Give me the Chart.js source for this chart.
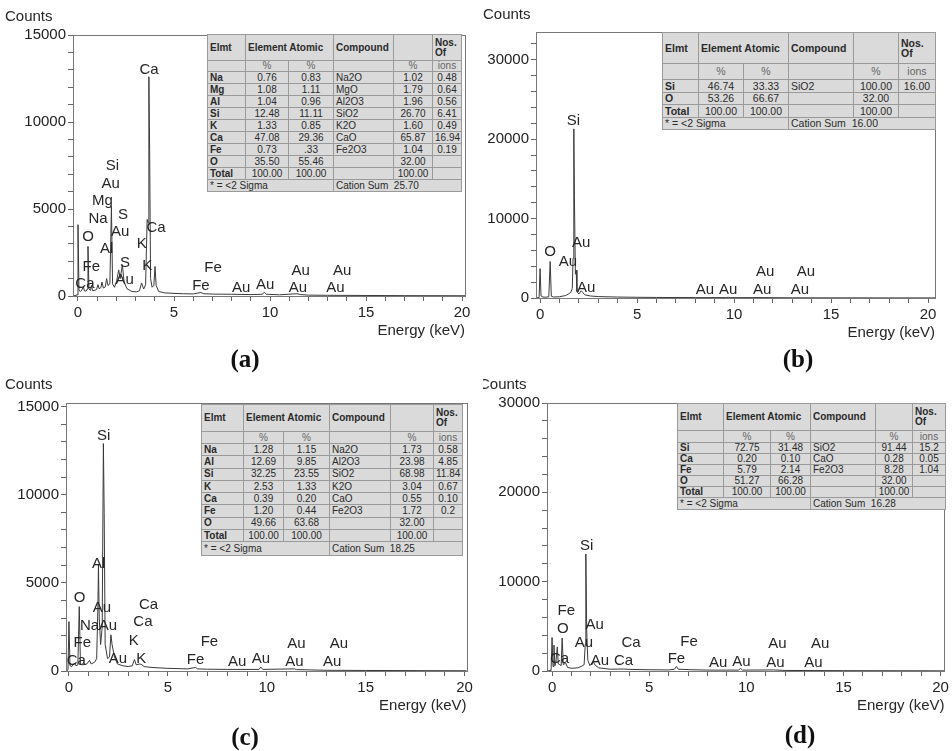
<!DOCTYPE html>
<html>
<head>
<meta charset="utf-8">
<script src="https://cdn.jsdelivr.net/npm/chart.js@4.4.1/dist/chart.umd.min.js"></script>
<style>
  body { margin: 0; background: #fff; }
  #wrap { position: relative; width: 952px; height: 751px; overflow: hidden; background: #fff; }
  canvas { position: absolute; }
  table.eds {
    position: absolute; border-collapse: collapse; table-layout: fixed;
    background: #dadada; color: #2a2a2a;
    font-family: "Liberation Sans", Arial, sans-serif;
    border: 1px solid #8a8a8a;
  }
  table.eds td { border: 1px solid #9a9a9a; padding: 0 2px; white-space: nowrap; overflow: hidden; text-align: center; line-height: 1; }
  table.eds td.l { text-align: left; }
  table.eds tr.hd td { font-weight: bold; text-align: left; }
  table.eds tr.pc td { color: #666; }
  table.eds td.b { font-weight: bold; }
  .cap { position: absolute; font-family: "Liberation Serif", "Times New Roman", serif; font-weight: bold; font-size: 25px; color: #111; transform: translate(-50%, -50%); }
</style>
</head>
<body>
<div id="wrap">
  <canvas id="chartA" width="476" height="372" style="left:0;top:0"></canvas>
  <canvas id="chartB" width="476" height="372" style="left:476px;top:0"></canvas>
  <canvas id="chartC" width="476" height="372" style="left:0;top:372px"></canvas>
  <canvas id="chartD" width="469" height="372" style="left:483px;top:372px"></canvas>
  <div class="cap" style="left:245px;top:359px">(a)</div>
  <div class="cap" style="left:798px;top:359px">(b)</div>
  <div class="cap" style="left:245px;top:737px">(c)</div>
  <div class="cap" style="left:800px;top:735px">(d)</div>
</div>
<script>
const FONT = '"Liberation Sans", Arial, sans-serif';

// --- spectra: [energy keV, counts] ---
const spectrumA = [[-0.25,0],[-0.05,60],[0,4100],[0.05,350],[0.12,250],[0.2,350],[0.28,550],[0.33,300],[0.42,280],[0.48,400],
  [0.52,2850],[0.57,400],[0.65,320],[0.7,600],[0.76,300],[0.88,330],[0.97,380],[1.04,650],[1.1,420],[1.19,480],
  [1.25,800],[1.32,460],[1.42,520],[1.49,1000],[1.56,600],[1.66,700],[1.74,5150],[1.8,700],[1.9,500],[2.02,900],
  [2.12,1500],[2.2,1000],[2.31,1800],[2.4,800],[2.55,420],[2.8,260],[3.05,240],[3.2,300],[3.31,750],[3.42,400],
  [3.52,650],[3.6,4400],[3.65,4200],[3.69,12600],[3.73,8400],[3.78,1000],[3.86,500],[3.95,600],[4.01,1700],[4.07,600],
  [4.2,260],[4.5,180],[5,150],[5.5,130],[6,120],[6.4,200],[6.55,130],[7,110],[8,100],[9,80],
  [9.6,100],[9.7,220],[9.8,100],[10.5,70],[11.4,130],[11.6,80],[12,50],[13,40],[15,30],[17,20],[20.15,15]];
const spectrumB = [[-0.21,0],[-0.05,60],[0,3700],[0.05,250],[0.15,120],[0.3,100],[0.45,150],[0.52,4600],[0.58,220],[0.7,120],
  [1.0,160],[1.3,300],[1.45,480],[1.58,700],[1.66,1200],[1.7,5000],[1.74,21300],[1.77,12800],[1.82,3000],[1.86,3500],
  [1.9,800],[2.0,500],[2.12,900],[2.2,700],[2.3,400],[2.6,250],[3,180],[4,120],[5,90],[6,70],
  [8,50],[9.6,50],[9.7,90],[9.8,45],[11.5,50],[13,25],[20.36,10]];
const spectrumC = [[-0.15,0],[-0.05,60],[0,2800],[0.05,300],[0.15,250],[0.28,450],[0.35,300],[0.45,350],[0.52,3650],[0.58,400],
  [0.7,350],[0.9,400],[1.04,600],[1.12,400],[1.3,500],[1.4,700],[1.46,3500],[1.49,6000],[1.53,3000],[1.6,1500],
  [1.68,2500],[1.74,12900],[1.78,9000],[1.83,1500],[1.95,700],[2.05,800],[2.12,2050],[2.18,1500],[2.3,800],[2.45,400],
  [2.7,300],[3.0,250],[3.2,300],[3.31,650],[3.4,350],[3.59,400],[3.69,350],[3.8,250],[4.2,200],[5,150],
  [6,120],[6.4,200],[6.5,120],[7,100],[8,90],[9.6,90],[9.7,220],[9.8,90],[11.4,120],[11.5,80],
  [13,40],[15,30],[18,20],[20.1,15]];
const spectrumD = [[-0.26,0],[-0.05,60],[0,3750],[0.05,500],[0.1,2900],[0.15,600],[0.2,1000],[0.27,2700],[0.32,800],[0.4,700],
  [0.47,600],[0.52,3700],[0.58,700],[0.7,900],[0.8,400],[1.0,300],[1.3,350],[1.5,500],[1.65,700],[1.71,3000],
  [1.74,13100],[1.78,4800],[1.84,1200],[1.95,600],[2.05,900],[2.12,1100],[2.2,700],[2.4,350],[3,200],[3.69,220],
  [4,180],[5,140],[6,120],[6.3,200],[6.4,500],[6.5,200],[7.06,150],[8,100],[9.6,100],[9.7,280],
  [9.8,100],[11.4,120],[12,60],[15,40],[20.2,20]];

// --- peak labels: [element, keV, counts] ---
const peaksA = [['Ca',3.70,12980],['Si',1.79,7460],['Au',1.70,6440],['Mg',1.27,5440],['Na',1.04,4420],['S',2.34,4670],
  ['O',0.52,3420],['Au',2.19,3670],['Ca',4.06,3940],['K',3.32,2980],['Al',1.49,2690],['S',2.45,1920],['Fe',0.69,1690],
  ['K',3.61,1750],['Au',2.43,920],['Ca',0.36,670],['Fe',7.03,1600],['Fe',6.4,600],['Au',8.5,460],['Au',9.74,630],
  ['Au',11.6,1440],['Au',11.45,460],['Au',13.75,1440],['Au',13.4,460]];
const peaksB = [['Si',1.72,22260],['O',0.52,5850],['Au',2.12,6900],['Au',1.43,4580],['Au',2.38,1310],['Au',8.5,1010],
  ['Au',9.7,1010],['Au',11.6,3290],['Au',11.45,1010],['Au',13.7,3290],['Au',13.4,1010]];
const peaksC = [['Si',1.75,13360],['Al',1.50,6100],['O',0.54,4140],['Au',1.67,3570],['Ca',4.02,3760],['Na',1.04,2570],
  ['Au',1.97,2570],['Ca',3.74,2760],['Fe',0.67,1580],['K',3.28,1730],['Ca',0.37,590],['Au',2.47,665],['K',3.65,665],
  ['Fe',7.1,1650],['Fe',6.4,625],['Au',8.5,510],['Au',9.7,680],['Au',11.5,1530],['Au',11.4,510],['Au',13.65,1530],['Au',13.3,510]];
const peaksD = [['Si',1.78,13990],['Fe',0.73,6680],['Au',2.20,5180],['O',0.56,4690],['Au',1.64,3190],['Ca',4.07,3110],
  ['Fe',7.05,3300],['Ca',0.39,1310],['Au',2.46,1160],['Ca',3.68,1160],['Fe',6.4,1400],['Au',8.55,900],['Au',9.75,1010],
  ['Au',11.6,3030],['Au',11.5,900],['Au',13.8,3030],['Au',13.45,900]];

// --- quantification tables ---
const elmtA = ['Na','Mg','Al','Si','K','Ca','Fe','O','Total'];
const elemPctA = ['0.76','1.08','1.04','12.48','1.33','47.08','0.73','35.50','100.00'];
const atomPctA = ['0.83','1.11','0.96','11.11','0.85','29.36','.33','55.46','100.00'];
const compA = ['Na2O','MgO','Al2O3','SiO2','K2O','CaO','Fe2O3','',''];
const compPctA = ['1.02','1.79','1.96','26.70','1.60','65.87','1.04','32.00','100.00'];
const ionsA = ['0.48','0.64','0.56','6.41','0.49','16.94','0.19','',''];
const cationA = '25.70';

const elmtB = ['Si','O','Total'];
const elemPctB = ['46.74','53.26','100.00'];
const atomPctB = ['33.33','66.67','100.00'];
const compB = ['SiO2','',''];
const compPctB = ['100.00','32.00','100.00'];
const ionsB = ['16.00','',''];
const cationB = '16.00';

const elmtC = ['Na','Al','Si','K','Ca','Fe','O','Total'];
const elemPctC = ['1.28','12.69','32.25','2.53','0.39','1.20','49.66','100.00'];
const atomPctC = ['1.15','9.85','23.55','1.33','0.20','0.44','63.68','100.00'];
const compC = ['Na2O','Al2O3','SiO2','K2O','CaO','Fe2O3','',''];
const compPctC = ['1.73','23.98','68.98','3.04','0.55','1.72','32.00','100.00'];
const ionsC = ['0.58','4.85','11.84','0.67','0.10','0.2','',''];
const cationC = '18.25';

const elmtD = ['Si','Ca','Fe','O','Total'];
const elemPctD = ['72.75','0.20','5.79','51.27','100.00'];
const atomPctD = ['31.48','0.10','2.14','66.28','100.00'];
const compD = ['SiO2','CaO','Fe2O3','',''];
const compPctD = ['91.44','0.28','8.28','32.00','100.00'];
const ionsD = ['15.2','0.05','1.04','',''];
const cationD = '16.28';

// frame, "Counts", "Energy (keV)" and the peak names
const peakText = {
  id: 'peakText',
  afterDraw(chart, args, opts) {
    const { ctx, chartArea: a, scales: { x, y } } = chart;
    ctx.save();
    ctx.strokeStyle = '#777';
    ctx.lineWidth = 1;
    ctx.strokeRect(Math.round(a.left) + 0.5, Math.round(a.top) + 0.5, Math.round(a.right - a.left), Math.round(a.bottom - a.top));
    ctx.fillStyle = '#262626';
    ctx.font = '15px ' + FONT;
    ctx.textBaseline = 'middle';
    ctx.textAlign = 'left';
    ctx.fillText('Counts', opts.countsX, opts.countsY);
    ctx.textAlign = 'right';
    ctx.fillText('Energy (keV)', a.right, a.bottom + 35);
    ctx.textAlign = 'center';
    opts.peaks.forEach(([name, kev, c]) => {
      ctx.fillText(name, x.getPixelForValue(kev), y.getPixelForValue(c));
    });
    ctx.restore();
  }
};

// tick values at every step between 0 and the top (Chart.js otherwise re-spaces them when max is not a multiple)
function stepTicks(top, step) {
  const t = [];
  for (let v = 0; v <= top + 1e-9; v += step) t.push({ value: v });
  return t;
}

function makeChart(id, spec) {
  const canvas = document.getElementById(id);
  const W = canvas.width, H = canvas.height, p = spec.plot;
  const tickFont = { family: FONT, size: 15 };
  return new Chart(canvas, {
    type: 'line',
    data: {
      datasets: [{
        data: spec.points.map(([e, c]) => ({ x: e, y: c })),
        borderColor: '#3a3a3a', borderWidth: 1, pointRadius: 0, tension: 0, fill: false
      }]
    },
    options: {
      responsive: false, animation: false,
      layout: { padding: { left: 0, top: p.t, right: W - p.r, bottom: 0 } },
      plugins: {
        legend: { display: false }, tooltip: { enabled: false }, title: { display: false },
        peakText: { peaks: spec.peaks, countsX: spec.countsX, countsY: spec.countsY }
      },
      scales: {
        x: {
          type: 'linear', min: spec.xMin, max: spec.xMax,
          afterFit: s => { s.height = H - p.b; },
          afterBuildTicks: s => { s.ticks = stepTicks(20, 1); },
          grid: { drawOnChartArea: false, tickLength: 5, color: '#666' },
          border: { color: '#666' },
          ticks: { autoSkip: false, maxRotation: 0, padding: 3, color: '#222', font: tickFont,
                   callback: v => (v % 5 === 0 ? String(v) : '') }
        },
        y: {
          min: 0, max: spec.yMax,
          afterFit: s => { s.width = p.l; },
          afterBuildTicks: s => { s.ticks = stepTicks(spec.yMax, spec.yStep); },
          grid: { drawOnChartArea: false, tickLength: 5, color: '#666' },
          border: { color: '#666' },
          ticks: { autoSkip: false, padding: 2, color: '#222', font: tickFont,
                   callback: v => (v % spec.yMajor === 0 ? String(v) : '') }
        }
      }
    },
    plugins: [peakText]
  });
}

function makeTable(cfg) {
  const t = document.createElement('table');
  t.className = 'eds';
  t.style.left = cfg.left + 'px';
  t.style.top = cfg.top + 'px';
  t.style.width = cfg.cols.reduce((s, w) => s + w, 0) + 'px';
  t.style.fontSize = cfg.font + 'px';
  let html = '<colgroup>' + cfg.cols.map(w => `<col style="width:${w}px">`).join('') + '</colgroup>';
  html += `<tr class="hd" style="height:${cfg.headH}px"><td>Elmt</td><td colspan="2">Element Atomic</td><td>Compound</td><td></td><td>Nos.<br>Of</td></tr>`;
  html += `<tr class="pc" style="height:${cfg.pctH}px"><td></td><td>%</td><td>%</td><td></td><td>%</td><td>ions</td></tr>`;
  cfg.elmt.forEach((el, i) => {
    html += `<tr style="height:${cfg.rowH}px"><td class="l b">${el}</td><td>${cfg.elemPct[i]}</td><td>${cfg.atomPct[i]}</td>` +
            `<td class="l">${cfg.comp[i]}</td><td>${cfg.compPct[i]}</td><td>${cfg.ions[i]}</td></tr>`;
  });
  html += `<tr style="height:${cfg.footH}px"><td class="l" colspan="3">* = &lt;2 Sigma</td><td class="l" colspan="3">Cation Sum&nbsp; ${cfg.cation}</td></tr>`;
  t.innerHTML = html;
  document.getElementById('wrap').appendChild(t);
}

makeChart('chartA', { points: spectrumA, peaks: peaksA, plot: { l: 73, t: 35, r: 465, b: 296 },
  xMin: -0.26, xMax: 20.15, yMax: 15000, yStep: 1000, yMajor: 5000, countsX: 5, countsY: 17 });
makeChart('chartB', { points: spectrumB, peaks: peaksB, plot: { l: 60, t: 32, r: 459, b: 298 },
  xMin: -0.21, xMax: 20.36, yMax: 33500, yStep: 2000, yMajor: 10000, countsX: 7, countsY: 15 });
makeChart('chartC', { points: spectrumC, peaks: peaksC, plot: { l: 66, t: 31, r: 467, b: 299 },
  xMin: -0.15, xMax: 20.1, yMax: 15200, yStep: 1000, yMajor: 5000, countsX: 5, countsY: 13 });
makeChart('chartD', { points: spectrumD, peaks: peaksD, plot: { l: 64, t: 31, r: 464, b: 299 },
  xMin: -0.26, xMax: 20.2, yMax: 30000, yStep: 2000, yMajor: 10000, countsX: -4, countsY: 13 });

makeTable({ left: 207, top: 34, cols: [38, 43, 45, 60, 39, 29], headH: 26, pctH: 11, rowH: 12, footH: 12, font: 10,
  elmt: elmtA, elemPct: elemPctA, atomPct: atomPctA, comp: compA, compPct: compPctA, ions: ionsA, cation: cationA });
makeTable({ left: 662, top: 32, cols: [36, 45, 45, 65, 45, 37], headH: 31, pctH: 16, rowH: 12.5, footH: 12, font: 10.5,
  elmt: elmtB, elemPct: elemPctB, atomPct: atomPctB, comp: compB, compPct: compPctB, ions: ionsB, cation: cationB });
makeTable({ left: 201, top: 404, cols: [42, 40, 46, 61, 43, 29], headH: 27, pctH: 12, rowH: 12.3, footH: 14, font: 10,
  elmt: elmtC, elemPct: elemPctC, atomPct: atomPctC, comp: compC, compPct: compPctC, ions: ionsC, cation: cationC });
makeTable({ left: 677, top: 403, cols: [46, 47, 40, 65, 37, 33], headH: 27, pctH: 12, rowH: 11, footH: 12, font: 10,
  elmt: elmtD, elemPct: elemPctD, atomPct: atomPctD, comp: compD, compPct: compPctD, ions: ionsD, cation: cationD });
</script>
</body>
</html>
